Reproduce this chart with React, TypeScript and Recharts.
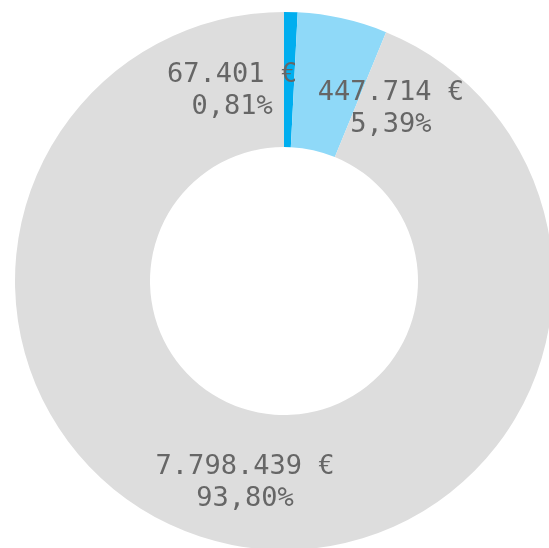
import React from 'react';
import { PieChart, Pie, Cell } from 'recharts';

const categories = ['A', 'B', 'C'];
const amounts = [67401, 447714, 7798439];
const colors = ['#00aeef', '#8fd9f8', '#dddddd'];

// nudges for the two small slices whose labels would overlap
const labelShift = [
  { dx: -57, dy: 8 },
  { dx: 63, dy: 22 },
  { dx: 0, dy: 1 },
];

const data = categories.map((name, i) => ({ name, value: amounts[i] }));
const total = amounts.reduce((a, b) => a + b, 0);

const fmtEuro = (v: number) => String(v).replace(/\B(?=(\d{3})+(?!\d))/g, '.') + ' €';
const fmtPct = (v: number) => ((v / total) * 100).toFixed(2).replace('.', ',') + '%';

const RADIAN = Math.PI / 180;

const renderLabel = (props: any) => {
  const { cx, cy, midAngle, innerRadius, outerRadius, value, index } = props;
  const r = (innerRadius + outerRadius) / 2;
  const shift = labelShift[index] || { dx: 0, dy: 0 };
  const x = cx + r * Math.cos(-midAngle * RADIAN) + shift.dx;
  const y = cy + r * Math.sin(-midAngle * RADIAN) + shift.dy;
  return (
    <text
      x={x}
      y={y}
      textAnchor="middle"
      fill="#666666"
      fontFamily="'DejaVu Sans Mono', monospace"
      fontSize={27}
    >
      <tspan x={x} dy={-6}>{fmtEuro(value)}</tspan>
      <tspan x={x} dy={32}>{fmtPct(value)}</tspan>
    </text>
  );
};

const App: React.FC = () => {
  return (
    <div style={{ position: 'fixed', left: 0, top: 0, width: 549, height: 548, overflow: 'hidden' }}>
      <PieChart width={549} height={548} margin={{ top: 0, right: 0, bottom: 0, left: 0 }}>
        <Pie
          data={data}
          dataKey="value"
          cx={284}
          cy={281}
          innerRadius={134}
          outerRadius={269}
          startAngle={90}
          endAngle={-270}
          stroke="none"
          label={renderLabel}
          labelLine={false}
          isAnimationActive={false}
        >
          {data.map((d, i) => (
            <Cell key={d.name} fill={colors[i]} />
          ))}
        </Pie>
      </PieChart>
    </div>
  );
};

export default App;
